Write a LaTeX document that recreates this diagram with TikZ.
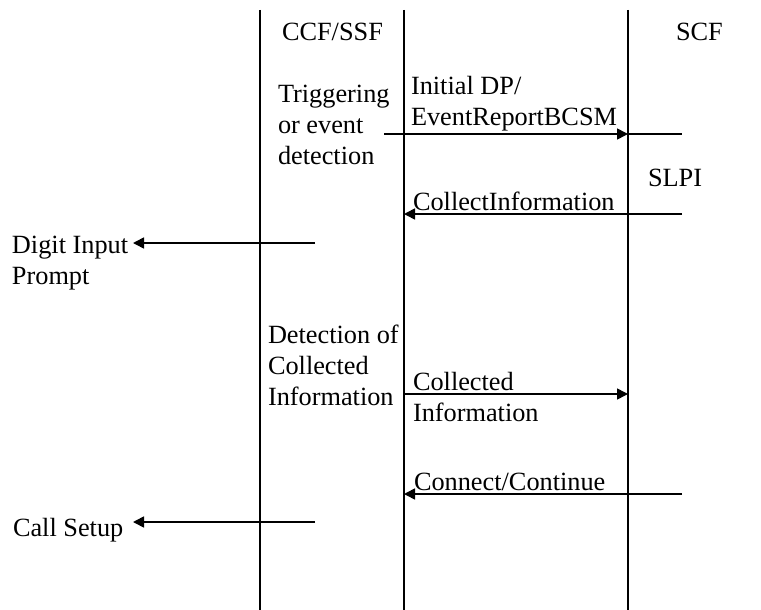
\documentclass[tikz,border=0pt]{standalone}
\usepackage{fontspec}
\setmainfont{Liberation Serif}
\usetikzlibrary{arrows.meta,positioning}
\tikzset{
  lbl/.style={inner sep=0pt,outer sep=0pt,align=left,font=\fontsize{26.3}{31}\selectfont},
  lifeline/.style={line width=1.4pt},
  msg/.style={line width=1.6pt,-{Triangle[length=11pt,width=11pt]}},
  plain/.style={line width=1.6pt}
}

\begin{document}
\begin{tikzpicture}[x=1pt,y=-1pt]
\useasboundingbox (0,0) rectangle (761,610);
% lifelines
\coordinate (ccfTop) at (260,10);   \coordinate (ccfBot) at (260,610);
\coordinate (ssfTop) at (404,10);   \coordinate (ssfBot) at (404,610);
\coordinate (scfTop) at (628,10);   \coordinate (scfBot) at (628,610);
\draw[lifeline] (ccfTop) -- (ccfBot);
\draw[lifeline] (ssfTop) -- (ssfBot);
\draw[lifeline] (scfTop) -- (scfBot);
% labels
\node[lbl,anchor=base west] (ccf) at (282,41) {CCF/SSF};
\node[lbl,anchor=base west] (scf) at (676,41) {SCF};
\node[lbl,anchor=north west] (trig) at (278,85) {Triggering\\or event\\detection};
\node[lbl,anchor=north west] (idp) at (411,76) {Initial DP/\\EventReportBCSM};
\node[lbl,anchor=base west] (slpi) at (648,186) {SLPI};
\node[lbl,anchor=base west] (collinfo) at (413,210) {CollectInformation};
\node[lbl,anchor=north west] (digit) at (12,236) {Digit Input\\Prompt};
\node[lbl,anchor=north west] (detect) at (268,325) {Detection of\\Collected\\Information};
\node[lbl,anchor=north west] (collected) at (413,372) {Collected\\Information};
\node[lbl,anchor=base west] (connect) at (414,490) {Connect/Continue};
\node[lbl,anchor=base west] (callsetup) at (13,536) {Call Setup};
% message ends
\coordinate (idpA) at (384,134);  \coordinate (idpB) at (628,134);  \coordinate (idpC) at (682,134);
\coordinate (ciA) at (682,214);   \coordinate (ciB) at (404,214);
\coordinate (dgA) at (315,243);   \coordinate (dgB) at (133,243);
\coordinate (cdA) at (404,394);   \coordinate (cdB) at (628,394);
\coordinate (ccA) at (682,494);   \coordinate (ccB) at (404,494);
\coordinate (csA) at (315,522);   \coordinate (csB) at (133,522);
% messages
\draw[msg] (idpA) -- (idpB);
\draw[plain] (idpB) -- (idpC);
\draw[msg] (ciA) -- (ciB);
\draw[msg] (dgA) -- (dgB);
\draw[msg] (cdA) -- (cdB);
\draw[msg] (ccA) -- (ccB);
\draw[msg] (csA) -- (csB);
\end{tikzpicture}
\end{document}
